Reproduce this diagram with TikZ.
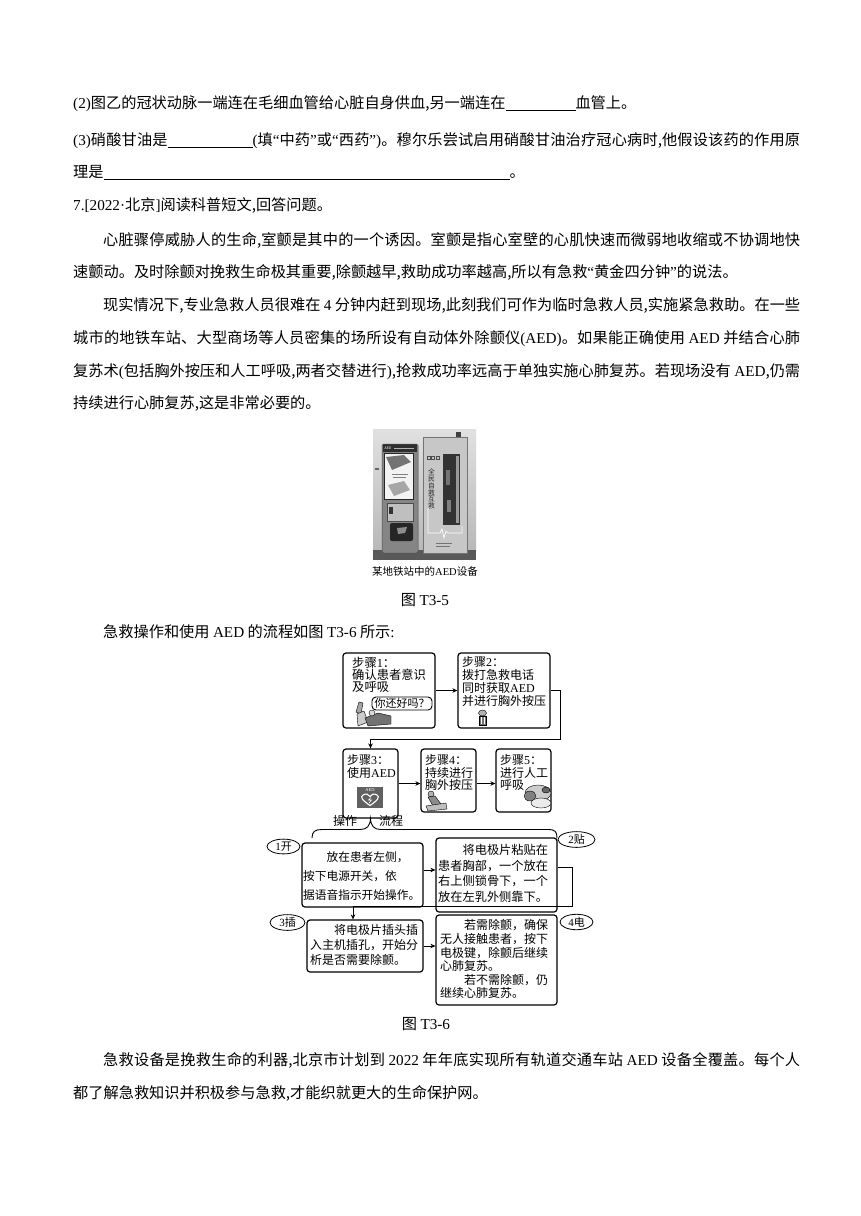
\documentclass[tikz,border=0pt]{standalone}
\usepackage{fontspec}
\setmainfont{Noto Sans CJK SC}
\newfontfamily\tm{Liberation Serif}
\usetikzlibrary{arrows.meta,shapes.geometric,calc}
\XeTeXinterchartokenstate=1
\newXeTeXintercharclass\cjkcls
\newcount\cjkc
\def\setcjkrange#1#2{\cjkc=#1\relax\loop\XeTeXcharclass\cjkc=\cjkcls\relax\ifnum\cjkc<#2\advance\cjkc by1\relax\repeat}
\setcjkrange{"4E00}{"9FFF}
\setcjkrange{"3000}{"303F}
\setcjkrange{"FF00}{"FFEF}
\XeTeXinterchartoks\cjkcls\cjkcls={\hskip0pt plus 0.2em\relax}
\newcommand\ql{{\tm “}}
\newcommand\qr{{\tm ”}}
\newcommand\myblank[1]{\rule[-2.5pt]{#1pt}{0.9pt}}
\newcommand\jl[2]{\makebox[#1pt][s]{#2}}
\begin{document}
\begin{tikzpicture}[x=1pt,y=-1pt,
  body/.style={font=\fontsize{15.2}{18}\selectfont, inner sep=0pt, anchor=base west},
  ctr/.style={font=\fontsize{15.2}{18}\selectfont, inner sep=0pt, anchor=base},
  fbox/.style={draw, rounded corners=3pt, line width=1.2pt, inner sep=0pt},
  ft/.style={inner sep=0pt, anchor=north west, align=left},
  arr/.style={line width=0.9pt, -{Stealth[length=5pt,width=4.5pt]}},
  lab/.style={draw, ellipse, line width=0.8pt, inner sep=0.5pt, minimum height=13pt, font=\fontsize{11}{11}\selectfont},
  fig/.style={fill=black!40, draw=black, line width=0.4pt},
]
\fill[white] (0,0) rectangle (860,1216);
\useasboundingbox (0,0) rectangle (860,1216);

% ---------- body text ----------
\node[body] (l1) at (73,108.7) {{\tm (2)}图乙的冠状动脉一端连在毛细血管给心脏自身供血,另一端连在\myblank{70}血管上。};
\node[body] (l2) at (73,145.7) {\jl{727}{{\tm (3)}硝酸甘油是\myblank{85}{\tm (}填\ql 中药\qr 或\ql 西药\qr{\tm )}。穆尔乐尝试启用硝酸甘油治疗冠心病时,他假设该药的作用原}};
\node[body] (l3) at (73,177.7) {理是\myblank{406}。};
\node[body] (l4) at (73,210.7) {{\tm 7.[2022·}北京{\tm ]}阅读科普短文,回答问题。};
\node[body] (l5) at (103,245.7) {\jl{697}{心脏骤停威胁人的生命,室颤是其中的一个诱因。室颤是指心室壁的心肌快速而微弱地收缩或不协调地快}};
\node[body] (l6) at (73,277.7) {速颤动。及时除颤对挽救生命极其重要,除颤越早,救助成功率越高,所以有急救\ql 黄金四分钟\qr 的说法。};
\node[body] (l7) at (103,310.7) {\jl{697}{现实情况下,专业急救人员很难在 {\tm 4} 分钟内赶到现场,此刻我们可作为临时急救人员,实施紧急救助。在一些}};
\node[body] (l8) at (73,343.7) {\jl{727}{城市的地铁车站、大型商场等人员密集的场所设有自动体外除颤仪{\tm (AED)}。如果能正确使用 {\tm AED} 并结合心肺}};
\node[body] (l9) at (73,376.7) {\jl{727}{复苏术{\tm (}包括胸外按压和人工呼吸,两者交替进行{\tm )},抢救成功率远高于单独实施心肺复苏。若现场没有 {\tm AED},仍需}};
\node[body] (l10) at (73,408.7) {持续进行心肺复苏,这是非常必要的。};

% ---------- photo ----------
\begin{scope}
\clip (373,429) rectangle (476,560);
\shade[top color=black!12, bottom color=black!28] (373,429) rectangle (476,552);
\fill[black!65] (373,550) rectangle (476,560);
\fill[black!60] (375,468) rectangle (379,470);
% left kiosk
\fill[black!48, rounded corners=1.5pt] (382,444) rectangle (418,553);
\fill[black!82] (383,444) rectangle (417,452);
\node[white, font=\fontsize{3.5}{4}\selectfont, inner sep=0pt] (aedk) at (388,448) {AED};
\draw[black!30, line width=0.4pt] (394,448) -- (414,448);
\filldraw[fill=black!5, draw=black!85, line width=1pt] (384.5,453) rectangle (413.5,499);
\fill[black!55] (386,457) -- (404,455) -- (411,462) -- (392,470) -- cycle;
\fill[black!35] (388,485) -- (404,481) -- (410,490) -- (394,496) -- cycle;
\draw[black!50, line width=0.4pt] (392,474) -- (408,474) (393,477) -- (406,477);
\filldraw[fill=black!25, draw=black!70, line width=0.6pt] (387,503) rectangle (413,521);
\fill[black!80] (389,507) rectangle (393,514);
\fill[black!85, rounded corners=2pt] (390,523) rectangle (413,541);
\fill[black!45] (397,528) -- (407,527) -- (405,533) -- (398,534) -- cycle;
\draw[black!70, line width=0.5pt, rounded corners=1.5pt] (382,444) rectangle (418,553);
% right cabinet
\fill[black!75] (456,432) rectangle (461,437);
\filldraw[fill=black!22, draw=black!55, line width=0.6pt] (423,437) rectangle (467,553);
\fill[black!80] (443,454) rectangle (460,525);
\fill[black!40] (456,456) rectangle (459,523);
\fill[black!55] (446,470) rectangle (450,485);
\fill[black!50] (447,500) rectangle (451,512);
\draw[black!70, line width=0.4pt] (427,456) rectangle (430,459) (431.5,456) rectangle (434.5,459) (436,456) rectangle (439,459);
\node[black!85, font=\fontsize{6.8}{6.8}\selectfont, align=center, inner sep=0pt] (cabt) at (431.5,489) {全\\民\\自\\救\\互\\救};
\draw[white, line width=0.7pt] (428,508) -- (428,533) -- (440,533) -- (442,529) -- (444,538) -- (446,531) -- (448,533) -- (462,533) -- (462,526);
\draw[black!55, line width=0.5pt] (436,543) -- (452,543) (436,546) -- (450,546);
\end{scope}
\node[inner sep=0pt, anchor=base, font=\fontsize{10.5}{12}\selectfont] (cap5) at (425,575) {某地铁站中的{\tm AED}设备};
\node[ctr] (fig5) at (425,605.7) {图 {\tm T3-5}};
\node[body] (l11) at (103,637.7) {急救操作和使用 {\tm AED} 的流程如图 {\tm T3-6} 所示{\tm :}};

% ---------- flowchart: steps ----------
\node[fbox, minimum width=92pt, minimum height=75pt] (b1) at (389,690.5) {};
\node[fbox, minimum width=92pt, minimum height=75pt] (b2) at (504,690.5) {};
\node[fbox, minimum width=55pt, minimum height=69pt] (b3) at (370.5,783.5) {};
\node[fbox, minimum width=55pt, minimum height=63pt] (b4) at (448.5,780.5) {};
\node[fbox, minimum width=55pt, minimum height=63pt] (b5) at (523.5,780.5) {};

\node[ft, font=\fontsize{12.3}{12.4}\selectfont] (t1) at (352,656.5) {步骤{\tm 1}：\\确认患者意识\\及呼吸};
\node[ft, font=\fontsize{12}{13}\selectfont] (t2) at (462,656.5) {步骤{\tm 2}：\\拨打急救电话\\同时获取{\tm AED}\\并进行胸外按压};
\node[ft, font=\fontsize{12}{13}\selectfont] (t3) at (347,754.5) {步骤{\tm 3}：\\使用{\tm AED}};
\node[ft, font=\fontsize{12}{12.3}\selectfont] (t4) at (425,754.5) {步骤{\tm 4}：\\持续进行\\胸外按压};
\node[ft, font=\fontsize{12}{12.3}\selectfont] (t5) at (500,754.5) {步骤{\tm 5}：\\进行人工\\呼吸};

\node[draw, rounded corners=4pt, line width=0.9pt, minimum width=60pt, minimum height=13pt, inner sep=0pt, font=\fontsize{11}{11}\selectfont] (bub) at (402,703.5) {你还好吗？};

% clip-art figures
\filldraw[fig, fill=black!35] (356,712) -- (359,702) -- (363,703) -- (361,714) -- cycle;
\filldraw[fig, fill=black!20] (357,714) -- (364,711) -- (368,722) -- (358,726) -- cycle;
\filldraw[fig, fill=black!55] (365,718) -- (378,713) -- (391,716) -- (391,724) -- (368,726) -- cycle;
\filldraw[fig, fill=black!15] (372,713) circle (3);
\filldraw[fig, fill=black!30] (482.5,713) ellipse (4 and 3);
\filldraw[fig, fill=black!55] (479,716) rectangle (486,725);
\draw[white, line width=0.4pt] (481,717) -- (481,724) (484,717) -- (484,724);
\filldraw[fig, fill=black!30] (431,794) circle (3);
\filldraw[fig, fill=black!45] (428,797) -- (435,796) -- (441,804) -- (433,806) -- cycle;
\filldraw[fig, fill=black!25] (426,806) -- (446,803) -- (447,809) -- (428,811) -- cycle;
\filldraw[fig, fill=black!20] (538,793) ellipse (13 and 8);
\filldraw[fig, fill=black!50] (530,796) ellipse (6 and 5);
\filldraw[fig, fill=black!8] (541,803) ellipse (10 and 5);
\filldraw[fig, fill=black!60] (546,790) ellipse (4 and 3);
% AED icon
\fill[black!62] (357,787) rectangle (383,808);
\node[white, font=\fontsize{4.5}{5}\selectfont, inner sep=0pt] (aedi) at (370,790.5) {{\tm AED}};
\draw[white, line width=1.1pt] (370,805.5) .. controls (362,800) and (360,797) .. (363,795) .. controls (366,793) and (369,794.5) .. (370,796.5) .. controls (371,794.5) and (374,793) .. (377,795) .. controls (380,797) and (378,800) .. (370,805.5);
\draw[white, line width=0.6pt] (371,797.5) -- (368.5,800) -- (371.5,800) -- (369,803);

% connectors
\draw[arr] (b1.east) -- (b2.west);
\coordinate (c1) at (560,739);
\draw[arr] (b2.east) -| (c1) -| (b3.north);
\draw[arr] (b3.east) -- (b3.east -| b4.west);
\coordinate (m4) at (b3.east -| b4.east);
\draw[arr] (m4) -- (m4 -| b5.west);

% brace
\node[inner sep=0pt, font=\fontsize{12}{12}\selectfont] (op) at (345,821) {操作};
\node[inner sep=0pt, font=\fontsize{12}{12}\selectfont] (lc) at (391,821) {流程};
\coordinate (brL) at (312,838);
\coordinate (brR) at (557,838);
\draw[line width=0.9pt] (brL) .. controls (312,831.5) and (315,829.5) .. (322,829.5) -- (360,829.5) .. controls (367,829.5) and (370,826) .. (b3.south) .. controls (371,826) and (374,829.5) .. (381,829.5) -- (548,829.5) .. controls (555,829.5) and (557,831.5) .. (brR);

% ---------- flowchart: AED operation ----------
\node[fbox, minimum width=121pt, minimum height=64pt] (bA) at (362.5,875) {};
\node[fbox, minimum width=121pt, minimum height=74pt] (bB) at (496.5,875) {};
\node[fbox, minimum width=116pt, minimum height=52pt] (bC) at (365,946) {};
\node[fbox, minimum width=121pt, minimum height=90pt] (bD) at (496.5,960) {};

\node[ft, font=\fontsize{11.7}{19}\selectfont] (tA) at (303,851.5) {\hspace*{2em}放在患者左侧，\\按下电源开关，依\\据语音指示开始操作。};
\node[ft, font=\fontsize{12.2}{15.5}\selectfont] (tB) at (438,844.5) {\hspace*{2em}将电极片粘贴在\\患者胸部，一个放在\\右上侧锁骨下，一个\\放在左乳外侧靠下。};
\node[ft, font=\fontsize{12}{15}\selectfont] (tC) at (310,924.5) {\hspace*{2em}将电极片插头插\\入主机插孔，开始分\\析是否需要除颤。};
\node[ft, font=\fontsize{12}{13.6}\selectfont] (tD) at (440,919.5) {\hspace*{2em}若需除颤，确保\\无人接触患者，按下\\电极键，除颤后继续\\心肺复苏。\\\hspace*{2em}若不需除颤，仍\\继续心肺复苏。};

\node[lab, minimum width=33pt] (e1) at (283.5,846.5) {{\tm 1}开};
\node[lab, minimum width=37pt] (e2) at (576.5,839.5) {{\tm 2}贴};
\node[lab, minimum width=35pt] (e3) at (287.5,922.5) {{\tm 3}插};
\node[lab, minimum width=33pt] (e4) at (576.5,922) {{\tm 4}电};

\coordinate (aE) at ([yshift=5pt]bA.east);
\draw[arr] (aE) -- (aE -| bB.west);
\coordinate (bE) at ([yshift=8pt]bB.east);
\coordinate (c2) at (572,906);
\coordinate (cN) at ([xshift=-12pt]bC.north);
\draw[arr] (bE) -| (c2) -| (cN);
\draw[arr] (bC.east) -- (bC.east -| bD.west);

\node[ctr] (fig6) at (426,1029.7) {图 {\tm T3-6}};
\node[body] (l12) at (103,1065.7) {\jl{697}{急救设备是挽救生命的利器,北京市计划到 {\tm 2022} 年年底实现所有轨道交通车站 {\tm AED} 设备全覆盖。每个人}};
\node[body] (l13) at (73,1098.7) {都了解急救知识并积极参与急救,才能织就更大的生命保护网。};
\end{tikzpicture}
\end{document}
